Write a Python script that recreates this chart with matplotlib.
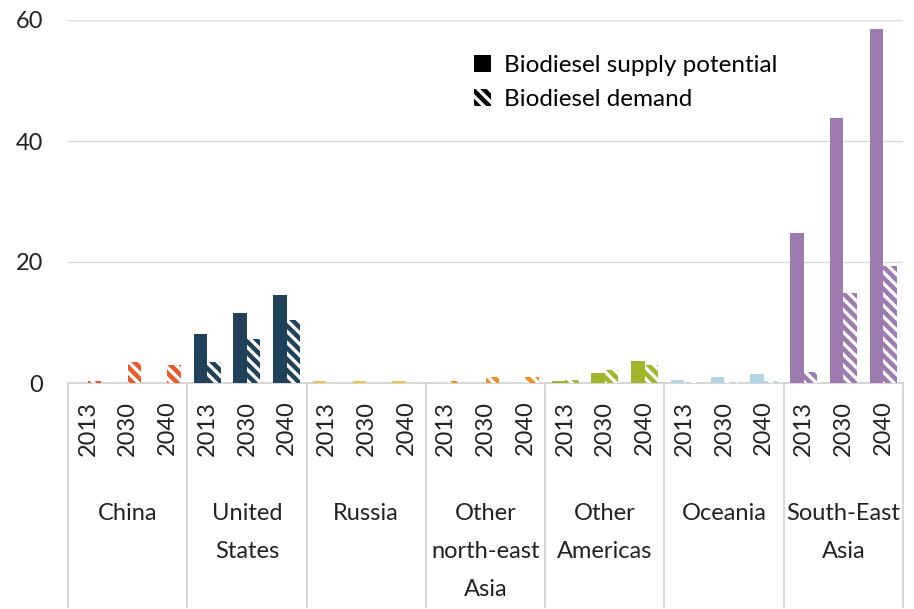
import matplotlib

matplotlib.use("Agg")
import matplotlib.pyplot as plt
import matplotlib.transforms as mtransforms
from matplotlib.patches import Patch

plt.rcParams["font.family"] = ["Lato", "DejaVu Sans"]
plt.rcParams["hatch.linewidth"] = 2.4

regions = ["China", "United\nStates", "Russia", "Other\nnorth-east\nAsia",
           "Other\nAmericas", "Oceania", "South-East\nAsia"]
years = ["2013", "2030", "2040"]
colors = ["#E8592C", "#1F4159", "#F6C445", "#F18B22", "#A3B52C", "#B4D5E6", "#9D7BB0"]

supply = [
    [0.0, 0.0, 0.0],
    [8.1, 11.5, 14.5],
    [0.3, 0.3, 0.3],
    [0.0, 0.0, 0.0],
    [0.3, 1.6, 3.7],
    [0.5, 1.0, 1.5],
    [24.8, 43.8, 58.5],
]
demand = [
    [0.3, 3.5, 3.0],
    [3.5, 7.3, 10.4],
    [0.0, 0.0, 0.0],
    [0.3, 1.0, 1.0],
    [0.5, 2.2, 3.0],
    [0.2, 0.2, 0.4],
    [1.8, 14.9, 19.4],
]

W, H = 914, 609
fig = plt.figure(figsize=(W / 100, H / 100), dpi=100)
left, right, top, base = 68, 903, 20, 383
ax = fig.add_axes([left / W, (H - base) / H, (right - left) / W, (base - top) / H])

bw = 0.34
HATCH = "\\\\\\"
for g in range(len(regions)):
    xs = [g * 3 + k for k in range(3)]
    ax.bar([x - bw / 2 for x in xs], supply[g], width=bw, color=colors[g], linewidth=0, zorder=3)
    ax.bar([x + bw / 2 for x in xs], demand[g], width=bw, facecolor=colors[g],
           edgecolor="white", hatch=HATCH, linewidth=0, zorder=3)

ax.set_xlim(-0.5, 20.5)
ax.set_ylim(0, 60)
ax.set_yticks([0, 20, 40, 60])
ax.yaxis.grid(True, color="#D9D9D9", linewidth=1.0, zorder=0)
ax.set_axisbelow(True)
ax.set_xticks([])
ax.tick_params(axis="y", length=0, labelsize=17, labelcolor="#222222", pad=18)
for s in ["top", "right", "left"]:
    ax.spines[s].set_visible(False)
ax.spines["bottom"].set_color("#D0D0D0")
ax.spines["bottom"].set_linewidth(1.2)

trans = mtransforms.blended_transform_factory(ax.transData, ax.transAxes)
span = base - top
for g in range(len(regions) + 1):
    ax.plot([g * 3 - 0.5, g * 3 - 0.5], [0, -(607 - base) / span], transform=trans,
            color="#D0D0D0", linewidth=1.2, clip_on=False)
for g, name in enumerate(regions):
    for k, yr in enumerate(years):
        ax.text(g * 3 + k, -(428 - base) / span, yr, transform=trans, rotation=90,
                ha="center", va="center", fontsize=17, color="#222222")
    ax.text(g * 3 + 1, -(503 - base) / span, name, transform=trans, ha="center", va="top",
            fontsize=17, color="#222222", linespacing=2.0)

handles = [Patch(facecolor="black", edgecolor="black", linewidth=0),
           Patch(facecolor="black", edgecolor="white", hatch=HATCH, linewidth=0)]
ax.legend(handles, ["Biodiesel supply potential", "Biodiesel demand"], loc="upper left",
          bbox_to_anchor=((474 - left) / (right - left), (base - 55) / span), frameon=False,
          fontsize=17.5, handlelength=0.7, handleheight=0.7, handletextpad=0.55,
          labelspacing=0.55, borderaxespad=0, borderpad=0)

fig.savefig("out.png", dpi=100, facecolor="white")
